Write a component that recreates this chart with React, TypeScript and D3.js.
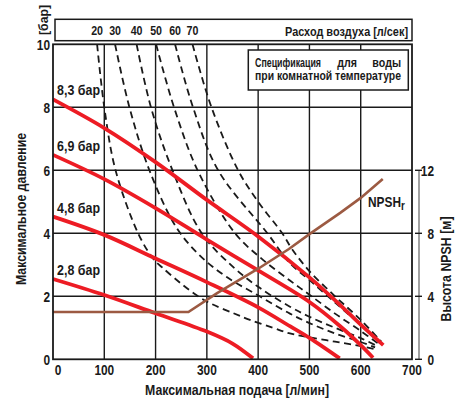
import React from 'react';
import * as d3 from 'd3';

// ---- data ----
const xTicks = [0, 100, 200, 300, 400, 500, 600, 700];
const yTicks = [0, 2, 4, 6, 8, 10];
const npshTicks = [0, 4, 8, 12];
const gridX = [100, 200, 300, 400, 500, 600];
const gridY = [2, 4, 6, 8];

const airFlowLabels = ['20', '30', '40', '50', '60', '70'];
const air20: [number, number][] = [[86, 10], [100, 8], [122, 6], [166, 4], [195, 3.2], [214, 2.9], [250, 2.4], [283, 2.0], [310, 1.75], [351, 1.47], [384, 1.25], [429, 1.0], [462, 0.82], [500, 0.7], [550, 0.56], [600, 0.42], [625, 0.33]];
const air30: [number, number][] = [[121, 10], [149, 8], [188, 6], [240, 4.2], [286, 3.3], [338, 2.62], [403, 2.0], [462, 1.45], [500, 1.15], [550, 0.82], [600, 0.55], [628, 0.38]];
const air40: [number, number][] = [[163, 10], [191, 8], [233, 6], [290, 4], [350, 2.95], [400, 2.3], [462, 1.67], [500, 1.35], [550, 1.0], [600, 0.67], [631, 0.43]];
const air50: [number, number][] = [[201, 10], [236, 8], [282, 6], [355, 4], [410, 3.15], [462, 2.5], [500, 2.05], [550, 1.45], [600, 0.9], [634, 0.5]];
const air60: [number, number][] = [[238, 10], [273, 8], [322, 6], [418, 4], [462, 3.05], [500, 2.52], [550, 1.8], [600, 1.09], [637, 0.52]];
const air70: [number, number][] = [[272, 10], [309, 8], [361, 6], [400, 5.0], [447, 4], [466, 3.5], [500, 2.8], [550, 2.0], [600, 1.25], [640, 0.56]];
const airCurves = [air20, air30, air40, air50, air60, air70];

const pressureLabels = ['8,3 бар', '6,9 бар', '4,8 бар', '2,8 бар'];
const p83: [number, number][] = [[0, 8.25], [100, 7.34], [200, 6.26], [300, 5.06], [400, 3.9], [500, 2.6], [560, 1.72], [600, 1.1], [644, 0.45]];
const p69: [number, number][] = [[0, 6.49], [100, 5.72], [200, 4.8], [300, 3.8], [400, 2.82], [500, 1.82], [560, 1.05], [600, 0.45], [624, 0.05]];
const p48: [number, number][] = [[0, 4.53], [100, 3.95], [200, 3.2], [300, 2.45], [400, 1.65], [462, 1.05], [500, 0.68], [559, 0.03]];
const p28: [number, number][] = [[0, 2.55], [100, 2.04], [200, 1.46], [300, 0.88], [350, 0.5], [390, 0.03]];
const pressureCurves = [p83, p69, p48, p28];

// NPSHr in metres
const npshCurve: [number, number][] = [[0, 3.0], [264, 3.0], [320, 4.2], [400, 5.75], [460, 7.0], [500, 7.95], [560, 9.3], [600, 10.25], [643, 11.45]];

const FONT = "'Liberation Sans',Arial,sans-serif";
const RED = '#ed1c24';
const BROWN = '#9c5a42';
const INK = '#1a1a1a';
const NARROW = 0.82;

type NTProps = {
  x: number; y: number; anchor?: 'start' | 'middle' | 'end'; size?: number; rot?: number; len?: number; dy?: string;
  children: React.ReactNode;
};
function NT({ x, y, anchor = 'start', size = 14, rot = 0, len, dy, children }: NTProps) {
  const extra: any = len ? { textLength: len / NARROW, lengthAdjust: 'spacingAndGlyphs' } : {};
  return (
    <text transform={`translate(${x},${y}) rotate(${rot}) scale(${NARROW},1)`} textAnchor={anchor} fontSize={size} dy={dy} fill={INK} {...extra}>
      {children}
    </text>
  );
}

export default function App() {
  const W = 466, H = 403;
  const x = d3.scaleLinear().domain([0, 700]).range([53, 412]);
  const y = d3.scaleLinear().domain([0, 10]).range([359.3, 44.3]);
  const yN = d3.scaleLinear().domain([0, 12]).range([359.3, 170.3]);

  const lineBar = d3.line<[number, number]>().x(d => x(d[0])).y(d => y(d[1])).curve(d3.curveCatmullRom.alpha(0.5));
  const lineN = d3.line<[number, number]>().x(d => x(d[0])).y(d => yN(d[1])).curve(d3.curveLinear);

  const [x0, x1] = x.range();
  const [yb, yt] = y.range();
  const rightAxisX = 419;

  return (
    <svg width={W} height={H} style={{ position: 'absolute', left: 0, top: 0, background: '#fff' }} fontFamily={FONT} fontWeight="bold">
      <rect x={0} y={0} width={W} height={H} fill="#fff" />
      {/* grid */}
      {gridX.map(v => (
        <line key={'gx' + v} x1={x(v)} x2={x(v)} y1={yt} y2={yb} stroke={INK} strokeWidth={1.4} />
      ))}
      {gridY.map(v => (
        <line key={'gy' + v} x1={x0} x2={x1} y1={y(v)} y2={y(v)} stroke={INK} strokeWidth={1.4} />
      ))}
      {/* air flow dashed curves */}
      {airCurves.map((c, i) => (
        <path key={'air' + i} d={lineBar(c) || ''} fill="none" stroke={INK} strokeWidth={1.8} strokeDasharray="7,4.5" />
      ))}
      {/* pressure red curves */}
      {pressureCurves.map((c, i) => (
        <path key={'p' + i} d={lineBar(c) || ''} fill="none" stroke={RED} strokeWidth={3.8} strokeLinecap="butt" />
      ))}
      {/* NPSH */}
      <path d={lineN(npshCurve) || ''} fill="none" stroke={BROWN} strokeWidth={2.6} />
      {/* frame */}
      <rect x={x0} y={yt} width={x1 - x0} height={yb - yt} fill="none" stroke={INK} strokeWidth={1.8} />
      {/* top air-flow box */}
      <rect x={55} y={19.3} width={x1 - 55} height={21.4} fill="none" stroke={INK} strokeWidth={1.5} />
      {airCurves.map((c, i) => (
        <NT key={'al' + i} x={x(c[0][0])} y={35} size={13} anchor="middle">{airFlowLabels[i]}</NT>
      ))}
      <NT x={408} y={35.5} size={13} anchor="end" len={123}>Расход воздуха [л/сек]</NT>
      {/* spec box */}
      <rect x={248.3} y={50} width={160} height={40} fill="#fff" stroke={INK} strokeWidth={1.5} />
      <NT x={255} y={66.5} size={13} len={66}>Спецификация</NT>
      <NT x={347} y={66.5} size={13} anchor="middle">для</NT>
      <NT x={401} y={66.5} size={13} anchor="end">воды</NT>
      <NT x={255} y={79.5} size={13} len={146}>при комнатной температуре</NT>
      {/* pressure labels */}
      {pressureCurves.map((c, i) => (
        <NT key={'pl' + i} x={x(8)} y={y(c[0][1]) - 4} size={14.5} len={43}>{pressureLabels[i]}</NT>
      ))}
      {/* NPSHr label */}
      <text transform="translate(368,206.5) scale(0.82,1)" fontSize={14.5} fill={INK}>NPSH<tspan fontSize={12} dy={3.5}>r</tspan></text>
      {/* left y axis ticks */}
      {yTicks.map(v => (
        <NT key={'yt' + v} x={50} y={y(v)} dy="0.36em" size={14.5} anchor="end">{v}</NT>
      ))}
      {/* x axis ticks */}
      {xTicks.map(v => (
        <NT key={'xt' + v} x={v === 0 ? x(v) + 5 : x(v)} y={370} dy="0.36em" size={14.5} anchor="middle">{v}</NT>
      ))}
      {/* right NPSH axis */}
      <line x1={rightAxisX} x2={rightAxisX} y1={yN(12)} y2={yN(0)} stroke="#8a8a8a" strokeWidth={1.6} />
      {npshTicks.map(v => (
        <g key={'nt' + v}>
          <line x1={rightAxisX - 4} x2={rightAxisX + 3} y1={yN(v)} y2={yN(v)} stroke={INK} strokeWidth={1.4} />
          <NT x={434} y={yN(v)} dy="0.36em" size={14.5} anchor="end">{v}</NT>
        </g>
      ))}
      {/* axis titles */}
      <NT x={237} y={395} size={14.5} anchor="middle" len={184}>Максимальная подача [л/мин]</NT>
      <NT x={25.5} y={209} rot={-90} size={14.5} anchor="middle" len={152}>Максимальное давление</NT>
      <NT x={451} y={269} rot={-90} size={14.5} anchor="middle" len={105}>Высота NPSH [м]</NT>
      <NT x={48} y={20} rot={-90} size={13.5} anchor="middle" len={30}>[бар]</NT>
    </svg>
  );
}
